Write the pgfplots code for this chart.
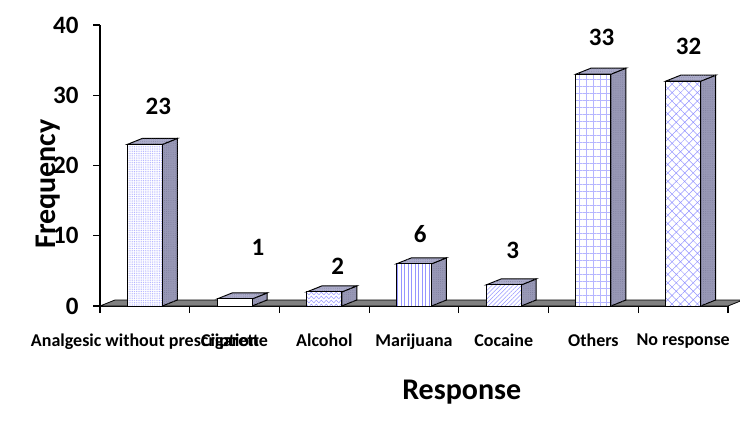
\documentclass[border=0pt]{standalone}
\usepackage{pgfplots}
\pgfplotsset{compat=1.18}
\usepackage{pgfplotstable}
\usetikzlibrary{patterns,patterns.meta}
\usepackage{fontspec}
\setmainfont{Carlito}

\definecolor{patblue}{RGB}{150,150,255}
\definecolor{sidecol}{RGB}{152,152,182}
\definecolor{topcol}{RGB}{172,172,202}
\definecolor{sidepat}{RGB}{120,120,150}
\definecolor{floorcol}{RGB}{128,128,128}

\tikzdeclarepattern{
  name=zigzag,
  type=uncolored,
  bounding box={(0,-0.5pt) and (5pt,4.5pt)},
  tile size={(5pt,4pt)},
  code={\draw[line width=0.5pt] (0,0.5pt) -- (2.5pt,3.5pt) -- (5pt,0.5pt);}
}

% x: category position, val: frequency, lx/ly: where the value label sits
\pgfplotstableread{
x  val  lx    ly
0  23   0.15  28.4
1  1    1.26  8.3
2  2    2.15  5.6
3  6    3.07  10.2
4  3    4.10  7.9
5  33   5.09  38.3
6  32   6.06  37.0
}\datatable

% half bar width and 3-D depth (axis units)
\def\hw{0.195}
\def\dx{0.167}
\def\dy{0.854}

\newcommand\bigbf{\fontsize{25bp}{29bp}\selectfont\bfseries}

\tikzset{
  frontface/.style={draw=black, line width=1bp, fill=white},
  pat0/.style={postaction={pattern={Dots[distance=1.8pt,radius=0.5pt]}, pattern color=patblue!85}},
  pat1/.style={},
  pat2/.style={postaction={pattern=zigzag, pattern color=patblue}},
  pat3/.style={postaction={pattern={Lines[angle=90,distance=3.5pt,line width=0.5pt]}, pattern color=patblue}},
  pat4/.style={postaction={pattern={Lines[angle=45,distance=3pt,line width=0.5pt]}, pattern color=patblue}},
  pat5/.style={postaction={pattern={Hatch[angle=0,distance=7pt,line width=0.5pt]}, pattern color=patblue!70}},
  pat6/.style={postaction={pattern={Hatch[angle=45,distance=6pt,line width=0.5pt]}, pattern color=patblue}},
  sideface/.style={draw=black, line width=1bp, fill=sidecol,
    postaction={pattern={Dots[distance=2.2pt,radius=0.4pt]}, pattern color=sidepat}},
  topface/.style={draw=black, line width=1bp, fill=topcol,
    postaction={pattern={Dots[distance=2.2pt,radius=0.4pt]}, pattern color=sidepat}},
}

\begin{document}
\begin{tikzpicture}
\path[use as bounding box] (0,0) rectangle (740bp,435bp);
\begin{axis}[
  at={(100bp,129bp)}, anchor=south west,
  scale only axis, width=628bp, height=281bp,
  xmin=-0.5, xmax=6.5, ymin=0, ymax=40,
  clip=false,
  axis x line=bottom, axis y line=left,
  axis line style={-, line width=1.5bp},
  tick style={line width=1.2bp, black},
  tick align=outside,
  major tick length=7bp,
  xtick={-0.5,0.5,...,6.5},
  x tick label as interval,
  xticklabels={Analgesic without prescription, Cigarette, Alcohol, Marijuana, Cocaine, Others, No response},
  ytick={0,10,20,30,40},
  /pgf/number format/assume math mode=true,
  tick label style={font=\bigbf},
  x tick label style={font=\fontsize{18bp}{21bp}\selectfont\bfseries, anchor=north, yshift=-17bp},
  y tick label style={font=\bigbf, anchor=east, xshift=-11bp},
  xlabel={Response},
  ylabel={Frequency},
  every axis x label/.style={at={(axis description cs:0.576,-0.306)}, anchor=center,
    font=\fontsize{30bp}{34bp}\selectfont\bfseries},
  every axis y label/.style={at={(axis description cs:-0.0828,0.434)}, anchor=center, rotate=90,
    font=\fontsize{30bp}{34bp}\selectfont\bfseries},
]
% floor of the chart
\fill[floorcol, draw=black, line width=0.8bp]
  (axis cs:-0.5,0) -- (axis cs:6.5,0) -- (axis cs:6.667,0.854) -- (axis cs:-0.333,0.854) -- cycle;

\pgfplotsinvokeforeach{0,...,6}{
  \pgfplotstablegetelem{#1}{val}\of\datatable
  \let\cv\pgfplotsretval
  \pgfmathsetmacro\xl{#1-\hw}
  \pgfmathsetmacro\xr{#1+\hw}
  \pgfmathsetmacro\xld{#1-\hw+\dx}
  \pgfmathsetmacro\xrd{#1+\hw+\dx}
  \pgfmathsetmacro\vtd{\cv+\dy}
  \edef\next{%
    \noexpand\fill[sideface] (axis cs:\xr,0) -- (axis cs:\xrd,\dy) -- (axis cs:\xrd,\vtd) -- (axis cs:\xr,\cv) -- cycle;
    \noexpand\fill[topface] (axis cs:\xl,\cv) -- (axis cs:\xld,\vtd) -- (axis cs:\xrd,\vtd) -- (axis cs:\xr,\cv) -- cycle;
  }\next
  \addplot[ybar, bar width=0.39, bar shift=0pt, frontface, pat#1,
    x filter/.expression={abs(x-#1)<0.1 ? x : nan}]
    table[x=x, y=val]{\datatable};
}

% value labels
\addplot[draw=none, nodes near coords, point meta=explicit,
  every node near coord/.style={anchor=center, font=\bigbf}]
  table[x=lx, y=ly, meta=val]{\datatable};
\end{axis}
\end{tikzpicture}
\end{document}
